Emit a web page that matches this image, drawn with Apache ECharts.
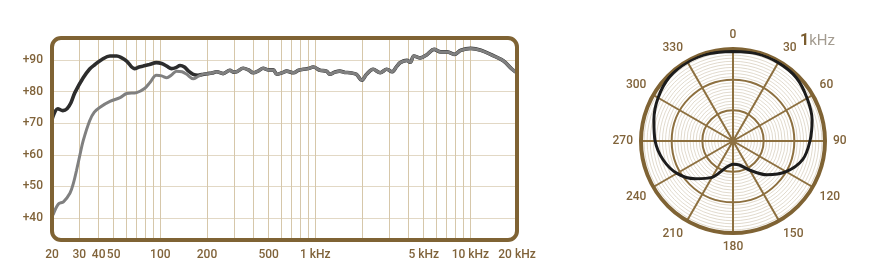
<!DOCTYPE html>
<html>
<head>
<meta charset="utf-8">
<script src="https://cdn.jsdelivr.net/npm/echarts@6/dist/echarts.min.js"></script>
<style>
  html, body { margin: 0; padding: 0; background: #fff; }
  #chart { width: 890px; height: 279px; }
</style>
</head>
<body>
<div id="chart"></div>
<script>
/* frequency response */
const darkFreq = [20, 21.8, 23.5, 25, 26.5, 28.1, 31.8, 35, 37.9, 42, 47.3, 52.4, 56, 60.6, 68.1, 73, 77.5, 85, 94.3, 102, 110, 118, 126, 134, 143, 152, 163, 175]
const darkLevel = [71.2, 74.6, 74.0, 74.6, 76.5, 79.7, 84.4, 87.2, 88.6, 90.2, 91.3, 91.3, 90.8, 89.7, 87.3, 87.8, 88.1, 88.6, 89.2, 88.9, 88.1, 87.3, 87.6, 88.3, 87.8, 86.5, 85.5, 85.2]

const greyFreq = [20.3, 22, 23.7, 26.1, 27.5, 28.8, 30.3, 31.8, 35, 37.5, 40.6, 47.3, 55, 60.6, 70.3, 79.5, 85.7, 94.3, 102, 110, 118, 127, 138, 148, 163, 175]
const greyLevel = [40.9, 44.4, 45.1, 47.8, 51, 55.1, 60, 64.5, 70.8, 73.5, 75, 76.9, 78.1, 79.4, 79.7, 81.1, 82.9, 85.2, 85.0, 84.4, 85.3, 86.5, 86.3, 85.5, 84.1, 84.8]

// both curves run together above ~180 Hz
const sharedFreq = [185, 200, 215, 231, 254, 281, 296, 310, 342, 370, 397, 430, 460, 500, 535, 564, 610, 653, 722, 780, 837, 900, 970, 1070, 1180, 1240, 1340, 1440, 1550, 1670, 1840, 1990, 2140, 2360, 2620, 2890, 3120, 3350, 3530, 3900, 4100, 4320, 4760, 5270, 5830, 6440, 7110, 7870, 8690, 10050, 11700, 14150, 16400, 18600, 20000]
const sharedLevel = [85.4, 85.7, 85.9, 86.3, 85.7, 86.8, 86.2, 86.3, 87.4, 86.9, 86.0, 86.6, 87.4, 86.9, 86.9, 85.5, 86.0, 86.5, 86.0, 86.8, 87.1, 87.3, 87.8, 86.8, 86.5, 85.5, 86.2, 86.5, 86.1, 86.0, 85.5, 83.6, 85.5, 87.1, 86.0, 87.1, 86.3, 88.0, 89.2, 89.9, 89.3, 91.3, 90.7, 91.8, 93.4, 92.6, 92.6, 91.8, 93.1, 93.7, 93.1, 91.3, 89.7, 87.1, 86.0]

const gridFreqs = [30, 40, 50, 60, 70, 80, 90, 100, 200, 300, 400, 500, 600, 700, 800, 900, 1000, 2000, 3000, 4000, 5000, 6000, 7000, 8000, 9000, 10000]
const labelFreqs = [20, 30, 40, 50, 100, 200, 500, 1000, 5000, 10000, 20000]
const levelTicks = [40, 50, 60, 70, 80, 90]

/* polar pattern at 1 kHz, dB above the centre */
const polarAngle = [0, 15, 30, 45, 60, 75, 90, 105, 120, 135, 150, 165, 180, 195, 210, 225, 240, 255, 270, 285, 300, 315, 330, 345, 360]
const polarLevel = [29.2, 29.5, 29.5, 29.2, 27.9, 26.7, 25.1, 23.5, 20.0, 15.6, 11.0, 8.1, 7.6, 9.0, 13.7, 17.4, 21.1, 23.6, 25.4, 26.7, 28.2, 29.4, 29.7, 29.5, 29.2]

const brown = '#7f6334'
const labelColor = '#80633a'
const font = 'Roboto'

const zip = (xs, ys) => xs.map((x, i) => [x, ys[i]])
const fmtFreq = v => v >= 1000 ? (v / 1000) + ' kHz' : String(v)

const chart = echarts.init(document.getElementById('chart'), null, { renderer: 'canvas' })

const option = {
  backgroundColor: '#fff',
  animation: false,
  title: {
    text: '{a|1}{b|kHz}',
    left: 795,
    top: 28,
    textStyle: {
      rich: {
        a: { fontFamily: font, fontWeight: 'bold', fontSize: 16, color: '#7a5c2e' },
        b: { fontFamily: font, fontWeight: 'normal', fontSize: 15, color: '#a39b90' }
      }
    }
  },
  grid: { left: 52, right: 373, top: 38, bottom: 39 },
  xAxis: {
    type: 'log',
    logBase: 10,
    min: 20,
    max: 20000,
    axisLine: { show: false },
    axisTick: { show: false, customValues: gridFreqs },
    axisLabel: {
      customValues: labelFreqs,
      formatter: fmtFreq,
      margin: 9,
      color: labelColor,
      fontFamily: font,
      fontWeight: 500,
      fontSize: 12
    },
    splitLine: { show: true, lineStyle: { color: '#d6c7aa', width: 1 } }
  },
  yAxis: {
    type: 'value',
    min: 33,
    max: 97,
    axisLine: { show: false },
    axisTick: { show: false, customValues: levelTicks },
    axisLabel: {
      customValues: levelTicks,
      formatter: v => '+' + v,
      margin: 9,
      color: labelColor,
      fontFamily: font,
      fontWeight: 500,
      fontSize: 12
    },
    splitLine: { show: true, lineStyle: { color: '#e2d8c5', width: 1 } }
  },
  polar: [
    { center: [733, 141], radius: 92 },
    { center: [733, 141], radius: 92 }
  ],
  radiusAxis: [
    {
      polarIndex: 0, min: 0, max: 30, interval: 1,
      axisLine: { show: false }, axisTick: { show: false }, axisLabel: { show: false },
      splitLine: { show: true, lineStyle: { color: '#d9d0c0', width: 0.8 } }
    },
    {
      polarIndex: 1, min: 0, max: 30, interval: 10,
      axisLine: { show: false }, axisTick: { show: false }, axisLabel: { show: false },
      splitLine: { show: true, lineStyle: { color: '#8d7040', width: 2 } }
    }
  ],
  angleAxis: [
    {
      polarIndex: 0, type: 'value', min: 0, max: 360, interval: 30, startAngle: 90,
      axisLine: { show: false }, axisTick: { show: false }, axisLabel: { show: false },
      splitLine: { show: false }
    },
    {
      polarIndex: 1, type: 'value', min: 0, max: 360, interval: 30, startAngle: 90, clockwise: true,
      axisLine: { show: true, lineStyle: { color: brown, width: 4 } },
      axisTick: { show: false },
      axisLabel: {
        showMaxLabel: false,
        margin: 8,
        color: labelColor,
        fontFamily: font,
        fontWeight: 500,
        fontSize: 12
      },
      splitLine: { show: true, lineStyle: { color: '#8d7040', width: 2 } }
    }
  ],
  graphic: [{
    type: 'rect',
    z: 100,
    silent: true,
    shape: { x: 52, y: 38, width: 465, height: 202, r: 9 },
    style: { fill: 'none', stroke: brown, lineWidth: 4 }
  }],
  series: [
    {
      name: 'dark',
      type: 'line',
      data: zip(darkFreq, darkLevel).concat(zip(sharedFreq, sharedLevel)),
      smooth: 0.35,
      showSymbol: false,
      lineStyle: { color: '#2d2d2d', width: 3.6 },
      z: 3
    },
    {
      name: 'grey',
      type: 'line',
      data: zip(greyFreq, greyLevel).concat(zip(sharedFreq, sharedLevel)),
      smooth: 0.35,
      showSymbol: false,
      lineStyle: { color: '#808080', width: 3 },
      z: 4
    },
    {
      name: 'pattern',
      type: 'line',
      coordinateSystem: 'polar',
      polarIndex: 1,
      data: zip(polarLevel, polarAngle),
      smooth: 0.3,
      showSymbol: false,
      lineStyle: { color: '#1c1c1c', width: 3 },
      z: 5
    }
  ]
}

chart.setOption(option)
</script>
</body>
</html>
